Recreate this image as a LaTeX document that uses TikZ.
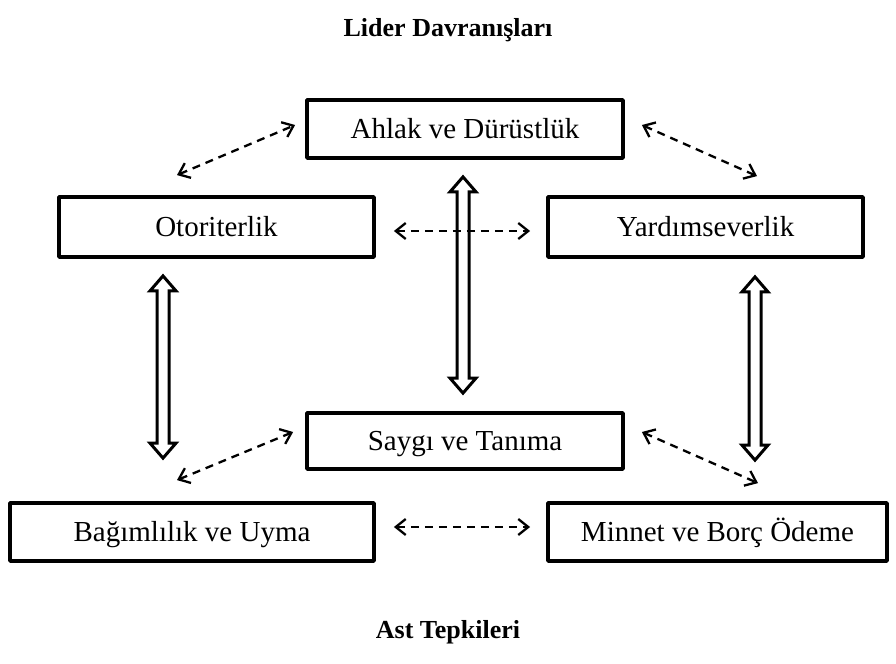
\documentclass[tikz,border=0pt]{standalone}
\usepackage{fontspec}
\setmainfont{Liberation Serif}
\usetikzlibrary{arrows.meta,calc}

% hollow vertical double-headed arrow between two coordinates
\newcommand\hollowdblarrow[2]{%
  \draw[hollowarrow] let \p1=(#1), \p2=(#2) in
    (\x1,\y1) -- (\x1+6.5pt,\y1-7.5pt) -- (\x1+3pt,\y1-7.5pt)
    -- (\x1+3pt,\y2+7.5pt) -- (\x1+6.5pt,\y2+7.5pt) -- (\x1,\y2)
    -- (\x1-6.5pt,\y2+7.5pt) -- (\x1-3pt,\y2+7.5pt)
    -- (\x1-3pt,\y1-7.5pt) -- (\x1-6.5pt,\y1-7.5pt) -- cycle;}

\begin{document}
\begin{tikzpicture}[x=0.5pt,y=-0.5pt,
  box/.style={draw, line width=1.9pt, line join=round, inner sep=0pt,
    text height=11.5pt, text depth=2pt,
    font=\fontsize{14.5}{17}\selectfont},
  heading/.style={font=\fontsize{13}{15}\selectfont\bfseries},
  hollowarrow/.style={draw, fill=white, line width=1.5pt, line join=miter},
  dasharrow/.style={line width=1.15pt, dash pattern=on 4pt off 3pt,
    {Straight Barb[length=5pt,width=8pt]}-{Straight Barb[length=5pt,width=8pt]}}]

\useasboundingbox (0,0) rectangle (896,664);

% headings
\node[heading] (lider) at (448,30) {Lider Davranışları};
\node[heading] (ast) at (448,632) {Ast Tepkileri};

% behaviour and response boxes
\node[box, minimum width=158pt, minimum height=29pt] (ahlak) at (465,129) {Ahlak ve Dürüstlük};
\node[box, minimum width=157.5pt, minimum height=30pt] (otor) at (216.5,227) {Otoriterlik};
\node[box, minimum width=157.5pt, minimum height=30pt] (yard) at (705.5,227) {Yardımseverlik};
\node[box, minimum width=158pt, minimum height=28pt] (saygi) at (465,441) {Saygı ve Tanıma};
\node[box, minimum width=182pt, minimum height=29pt] (bagim) at (192,532) {Bağımlılık ve Uyma};
\node[box, minimum width=169.5pt, minimum height=29pt] (minnet) at (717.5,532) {Minnet ve Borç Ödeme};

% ends of the hollow double arrows
\coordinate (cTop) at ($(ahlak.south)+(-2,17)$);
\coordinate (cBot) at ($(saygi.north)+(-2,-18)$);
\coordinate (lTop) at ($(otor.south)+(-53.5,17)$);
\coordinate (lBot) at ($(bagim.north)+(-29,-43)$);
\coordinate (rTop) at ($(yard.south)+(49.5,18)$);
\coordinate (rBot) at ($(minnet.north)+(37.5,-41)$);

\hollowdblarrow{cTop}{cBot}
\hollowdblarrow{lTop}{lBot}
\hollowdblarrow{rTop}{rBot}

% ends of the dashed two-way links
\coordinate (aoA) at ($(ahlak.west)+(-10,-4)$);
\coordinate (aoB) at ($(otor.north)+(-39.5,-20)$);
\coordinate (ayA) at ($(ahlak.east)+(17,-4)$);
\coordinate (ayB) at ($(yard.north)+(51.5,-19)$);
\coordinate (oyA) at ($(otor.east)+(18,4)$);
\coordinate (oyB) at ($(yard.west)+(-16,4)$);
\coordinate (sbA) at ($(saygi.west)+(-12,-9)$);
\coordinate (sbB) at ($(bagim.north)+(-15,-21)$);
\coordinate (smA) at ($(saygi.east)+(17,-9)$);
\coordinate (smB) at ($(minnet.north)+(40.5,-18)$);
\coordinate (bmA) at ($(bagim.east)+(18,-5)$);
\coordinate (bmB) at ($(minnet.west)+(-16,-5)$);

\draw[dasharrow] (aoB) -- (aoA);
\draw[dasharrow] (ayA) -- (ayB);
\draw[dasharrow] (oyA) -- (oyB);
\draw[dasharrow] (sbB) -- (sbA);
\draw[dasharrow] (smA) -- (smB);
\draw[dasharrow] (bmA) -- (bmB);

\end{tikzpicture}
\end{document}
